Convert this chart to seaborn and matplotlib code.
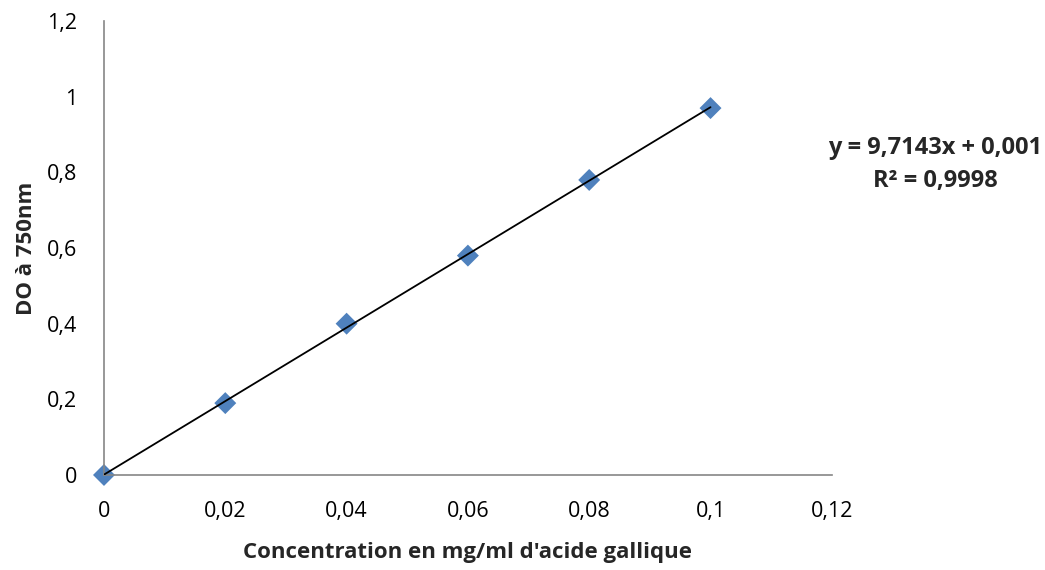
import matplotlib
matplotlib.use("Agg")
import matplotlib.pyplot as plt
import seaborn as sns
import pandas as pd

concentration = [0.0, 0.02, 0.04, 0.06, 0.08, 0.10]
absorbance = [0.0, 0.19, 0.40, 0.58, 0.78, 0.97]
x_ticks = [0, 0.02, 0.04, 0.06, 0.08, 0.10, 0.12]
x_tick_labels = ["0", "0,02", "0,04", "0,06", "0,08", "0,1", "0,12"]
y_ticks = [0, 0.2, 0.4, 0.6, 0.8, 1.0, 1.2]
y_tick_labels = ["0", "0,2", "0,4", "0,6", "0,8", "1", "1,2"]
equation = "y = 9,7143x + 0,001\nR² = 0,9998"

df = pd.DataFrame({"x": concentration, "y": absorbance})

sns.set_theme(style="white")
plt.rcParams['font.family'] = ['Open Sans', 'DejaVu Sans']

fig = plt.figure(figsize=(10.45, 5.7), dpi=100)
ax = fig.add_axes([0.0995, 0.1667, 0.6965, 0.7963])

sns.regplot(data=df, x="x", y="y", ci=None, scatter=False, truncate=True,
            line_kws={"color": "black", "lw": 1.3, "zorder": 3}, ax=ax)
sns.scatterplot(data=df, x="x", y="y", marker="D", s=125, color="#4F81BD",
                edgecolor="none", zorder=2, clip_on=False, ax=ax)

ax.set_xlim(0, 0.12)
ax.set_ylim(0, 1.2)
ax.set_xticks(x_ticks)
ax.set_xticklabels(x_tick_labels, fontsize=15.5)
ax.set_yticks(y_ticks)
ax.set_yticklabels(y_tick_labels, fontsize=15.5)
ax.tick_params(axis="both", length=0, colors="black")
ax.tick_params(axis="x", pad=19)
ax.tick_params(axis="y", pad=19.5)

for s in ["top", "right"]:
    ax.spines[s].set_visible(False)
for s in ["left", "bottom"]:
    ax.spines[s].set_color("#868686")
    ax.spines[s].set_linewidth(1.2)

ax.set_xlabel("Concentration en mg/ml d'acide gallique", fontsize=16,
              fontweight="bold", labelpad=14)
ax.set_ylabel("DO à 750nm", fontsize=16, fontweight="bold", labelpad=7)

fig.text(0.895, 0.711, equation, ha="center", va="center", fontsize=17,
         fontweight="bold", linespacing=1.5)

fig.savefig("out.png", dpi=100)
